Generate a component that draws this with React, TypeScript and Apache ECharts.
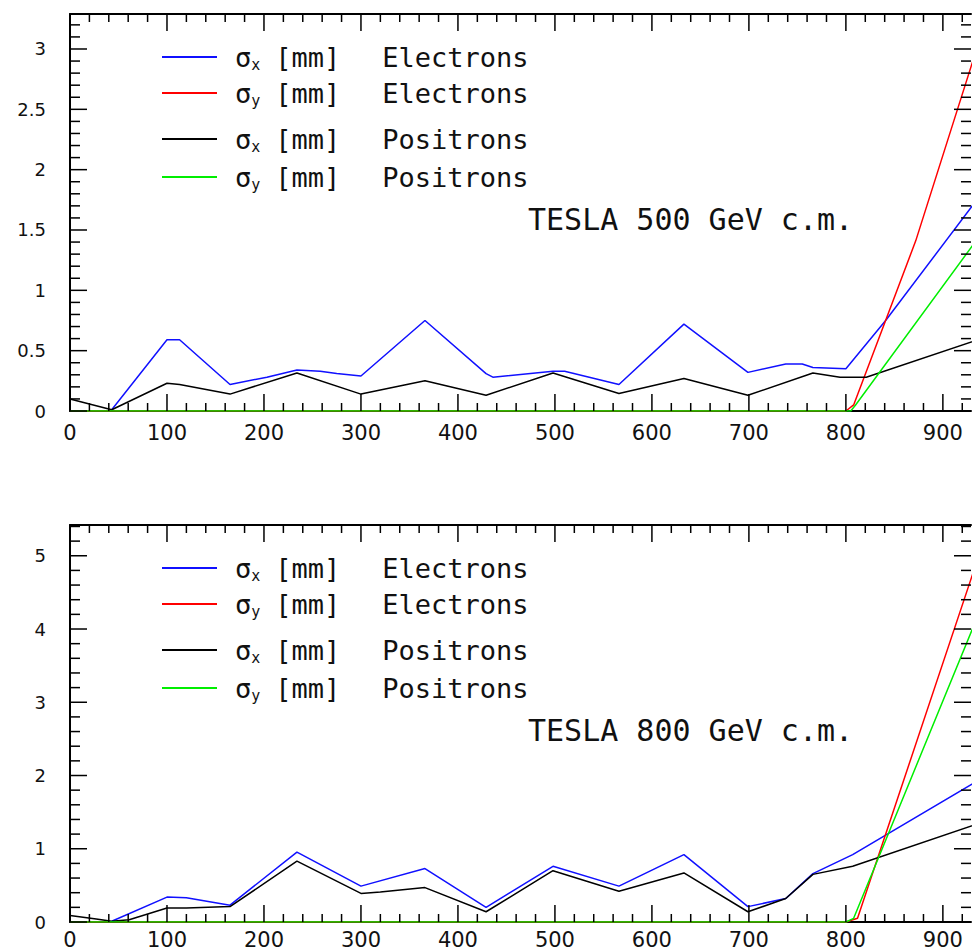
import React, { useEffect, useRef } from "react";
import * as echarts from "echarts";

// ---------- tick labels ----------
const xMajorTicks = [0, 100, 200, 300, 400, 500, 600, 700, 800, 900];
const yTopTicks = [0, 0.5, 1, 1.5, 2, 2.5, 3];
const yBotTicks = [0, 1, 2, 3, 4, 5];

// ---------- legend names ----------
const seriesNames = [
  "σx [mm] Electrons",
  "σy [mm] Electrons",
  "σx [mm] Positrons",
  "σy [mm] Positrons",
];
const panelTitles = ["TESLA 500 GeV c.m.", "TESLA 800 GeV c.m."];

// ---------- TESLA 500 GeV (top panel) ----------
const top_sxE_x = [43, 100, 113, 165, 203, 234, 258, 275, 300, 366, 429, 436, 498, 510, 566, 633, 699, 738, 755, 766, 800, 841, 936];
const top_sxE_y = [0.01, 0.59, 0.59, 0.22, 0.28, 0.34, 0.33, 0.31, 0.29, 0.75, 0.31, 0.28, 0.33, 0.33, 0.22, 0.72, 0.32, 0.39, 0.39, 0.36, 0.35, 0.75, 1.76];
const top_syE_x = [0, 800, 808, 872, 936];
const top_syE_y = [0, 0, 0.05, 1.41, 3.03];
const top_sxP_x = [0, 43, 100, 113, 165, 234, 300, 366, 429, 498, 566, 633, 699, 766, 794, 821, 936];
const top_sxP_y = [0.1, 0.01, 0.23, 0.22, 0.14, 0.315, 0.14, 0.25, 0.13, 0.315, 0.145, 0.27, 0.13, 0.315, 0.28, 0.28, 0.59];
const top_syP_x = [0, 805, 810, 936];
const top_syP_y = [0, 0, 0.05, 1.43];

// ---------- TESLA 800 GeV (bottom panel) ----------
const bot_sxE_x = [43, 100, 120, 165, 234, 300, 366, 429, 498, 566, 633, 699, 738, 766, 807, 936];
const bot_sxE_y = [0.01, 0.34, 0.33, 0.23, 0.955, 0.49, 0.73, 0.2, 0.76, 0.49, 0.92, 0.21, 0.32, 0.66, 0.92, 1.93];
const bot_syE_x = [0, 800, 812, 936];
const bot_syE_y = [0, 0, 0.05, 4.96];
const bot_sxP_x = [0, 27, 43, 61, 100, 120, 165, 234, 300, 320, 366, 429, 498, 566, 633, 699, 738, 766, 807, 936];
const bot_sxP_y = [0.09, 0.04, 0.01, 0.03, 0.19, 0.19, 0.21, 0.83, 0.39, 0.41, 0.47, 0.14, 0.7, 0.42, 0.67, 0.14, 0.32, 0.65, 0.76, 1.34];
const bot_syP_x = [0, 800, 808, 936];
const bot_syP_y = [0, 0, 0.05, 4.18];

const colors = ["#1010ff", "#ff0000", "#000000", "#00ee00"];

const pairs = (xs: number[], ys: number[]) => xs.map((x, i) => [x, ys[i]]);

const X_MAX = 929;
const Y_MAX_TOP = 3.29;
const Y_MAX_BOT = 5.42;
const numFont = "DejaVu Sans";
const textFont = "DejaVu Sans Mono";

// minor tick positions (axis decoration): 4 subdivisions between major ticks
const subdivide = (major: number[], limit: number) => {
  const step = (major[1] - major[0]) / 5;
  const out: number[] = [];
  major.forEach((m) => {
    for (let k = 1; k < 5; k++) {
      const v = +(m + k * step).toFixed(3);
      if (v < limit) out.push(v);
    }
  });
  return out;
};
const xMinorTicks = subdivide(xMajorTicks, X_MAX);
const yTopMinor = subdivide(yTopTicks, Y_MAX_TOP);
const yBotMinor = subdivide(yBotTicks, Y_MAX_BOT);

function makeXAxes(grid: number, labelMargin: number) {
  const mk = (position: string, labels: boolean) => ({
    type: "value",
    gridIndex: grid,
    min: xMajorTicks[0],
    max: X_MAX,
    interval: xMajorTicks[1] - xMajorTicks[0],
    position,
    splitLine: { show: false },
    axisLine: { show: true, onZero: false, lineStyle: { color: "#000", width: 2 } },
    axisTick: { show: false },
    minorTick: { show: false },
    axisLabel: labels
      ? { show: true, margin: labelMargin, fontFamily: numFont, fontSize: 21, color: "#111", showMaxLabel: false }
      : { show: false },
  });
  return [mk("bottom", true), mk("top", false)];
}

function makeYAxes(grid: number, max: number, ticks: number[]) {
  const mk = (position: string, labels: boolean) => ({
    type: "value",
    gridIndex: grid,
    min: ticks[0],
    max,
    interval: ticks[1] - ticks[0],
    position,
    splitLine: { show: false },
    axisLine: { show: position === "left", onZero: false, lineStyle: { color: "#000", width: 2 } },
    axisTick: { show: false },
    minorTick: { show: false },
    axisLabel: labels
      ? { show: true, margin: 24, fontFamily: numFont, fontSize: 18, color: "#111", showMaxLabel: false }
      : { show: false },
  });
  return [mk("left", true), mk("right", false)];
}

// Tick marks drawn inward on all four sides through the axes' own scales
function tickSeries(axisIdx: number, dir: "x" | "y", values: number[], len: number, yMax: number) {
  return {
    type: "custom",
    coordinateSystem: "cartesian2d",
    xAxisIndex: axisIdx,
    yAxisIndex: axisIdx,
    silent: true,
    clip: false,
    z: 10,
    data: values.map((v) => (dir === "x" ? [v, 0] : [0, v])),
    renderItem: (params: any, api: any) => {
      const st = () => ({ stroke: "#000", lineWidth: 1.5, fill: null });
      if (dir === "x") {
        const v = api.value(0);
        const a = api.coord([v, 0]);
        const b = api.coord([v, yMax]);
        return {
          type: "group",
          children: [
            { type: "line", shape: { x1: a[0], y1: a[1], x2: a[0], y2: a[1] - len }, style: st() },
            { type: "line", shape: { x1: b[0], y1: b[1], x2: b[0], y2: b[1] + len }, style: st() },
          ],
        };
      }
      const v = api.value(1);
      const a = api.coord([0, v]);
      const b = api.coord([X_MAX, v]);
      return {
        type: "group",
        children: [
          { type: "line", shape: { x1: a[0], y1: a[1], x2: a[0] + len, y2: a[1] }, style: st() },
          { type: "line", shape: { x1: b[0], y1: b[1], x2: b[0] - len, y2: b[1] }, style: st() },
        ],
      };
    },
  };
}

const legendRich = {
  g: { fontFamily: textFont, fontSize: 27, lineHeight: 30, color: "#111", padding: [0, 0, 0, 13] },
  s: { fontFamily: textFont, fontSize: 15, lineHeight: 13, color: "#111", verticalAlign: "bottom" },
  t: { fontFamily: textFont, fontSize: 27, lineHeight: 30, color: "#111", padding: [0, 0, 0, 15] },
  u: { fontFamily: textFont, fontSize: 27, lineHeight: 30, color: "#111", padding: [0, 0, 0, 42] },
};

function legendFormatter(name: string) {
  const sub = name.charAt(1);
  const parts = name.slice(3).split(" ");
  return `{g|σ}{s|${sub}}{t|${parts[0]}}{u|${parts[1]}}`;
}

const legendRowsTop = [57, 93, 139, 177];
const PANEL_OFFSET = 511;

function makeLegends() {
  const out: any[] = [];
  [0, PANEL_OFFSET].forEach((off) => {
    seriesNames.forEach((name, i) => {
      out.push({
        show: true,
        left: 162,
        top: legendRowsTop[i] + off - 15,
        padding: 0,
        icon: "rect",
        itemWidth: 55,
        itemHeight: 2,
        selectedMode: false,
        data: [name],
        formatter: legendFormatter,
        textStyle: { fontFamily: textFont, fontSize: 27, lineHeight: 30, color: "#111", rich: legendRich },
      });
    });
  });
  return out;
}

export default function App() {
  const ref = useRef<HTMLDivElement>(null);
  useEffect(() => {
    if (!ref.current) return;
    const chart = echarts.init(ref.current, undefined, { renderer: "svg" });
    const topData = [
      pairs(top_sxE_x, top_sxE_y),
      pairs(top_syE_x, top_syE_y),
      pairs(top_sxP_x, top_sxP_y),
      pairs(top_syP_x, top_syP_y),
    ];
    const botData = [
      pairs(bot_sxE_x, bot_sxE_y),
      pairs(bot_syE_x, bot_syE_y),
      pairs(bot_sxP_x, bot_sxP_y),
      pairs(bot_syP_x, bot_syP_y),
    ];
    const mkSeries = (data: number[][][], axisIdx: number) =>
      data.map((d, i) => ({
        type: "line",
        name: seriesNames[i],
        xAxisIndex: axisIdx,
        yAxisIndex: axisIdx,
        data: d,
        symbol: "none",
        lineStyle: { color: colors[i], width: 1.5 },
        itemStyle: { color: colors[i] },
      }));

    const ticks = [
      tickSeries(0, "x", xMajorTicks, 17, Y_MAX_TOP),
      tickSeries(0, "x", xMinorTicks, 8, Y_MAX_TOP),
      tickSeries(0, "y", yTopTicks, 17, Y_MAX_TOP),
      tickSeries(0, "y", yTopMinor, 10, Y_MAX_TOP),
      tickSeries(2, "x", xMajorTicks, 17, Y_MAX_BOT),
      tickSeries(2, "x", xMinorTicks, 8, Y_MAX_BOT),
      tickSeries(2, "y", yBotTicks, 17, Y_MAX_BOT),
      tickSeries(2, "y", yBotMinor, 10, Y_MAX_BOT),
    ];

    chart.setOption({
      animation: false,
      grid: [
        { left: 70, top: 14, width: 901, height: 397 },
        { left: 70, top: 525, width: 901, height: 397 },
      ],
      xAxis: [...makeXAxes(0, 11), ...makeXAxes(1, 7)],
      yAxis: [...makeYAxes(0, Y_MAX_TOP, yTopTicks), ...makeYAxes(1, Y_MAX_BOT, yBotTicks)],
      title: panelTitles.map((t, i) => ({
        text: t,
        left: 528,
        top: 204 + i * PANEL_OFFSET,
        padding: 0,
        textStyle: { fontFamily: textFont, fontSize: 30, lineHeight: 30, fontWeight: "normal", color: "#111" },
      })),
      legend: makeLegends(),
      series: [...mkSeries(topData, 0), ...mkSeries(botData, 2), ...ticks],
    });
    return () => chart.dispose();
  }, []);
  return (
    <div
      ref={ref}
      style={{ position: "absolute", left: 0, top: 0, width: 972, height: 952, background: "#fff" }}
    />
  );
}
